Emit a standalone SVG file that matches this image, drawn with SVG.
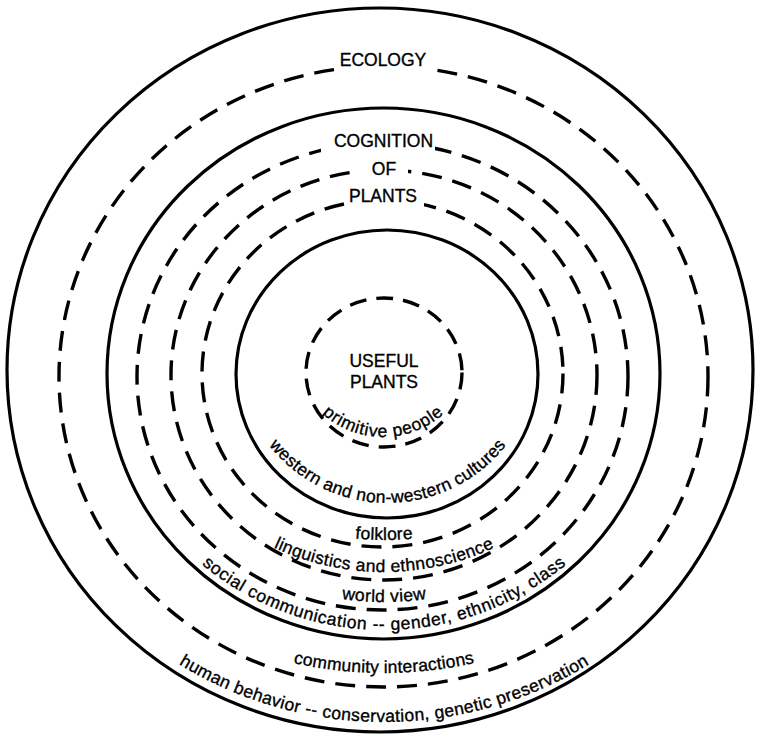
<svg xmlns="http://www.w3.org/2000/svg" xmlns:xlink="http://www.w3.org/1999/xlink" width="758" height="735" viewBox="0 0 758 735">
<style>
.solid{fill:none;stroke:#000;stroke-width:3.2}
.dash{fill:none;stroke:#000;stroke-width:3.4;stroke-dasharray:20 11}
.dashs{fill:none;stroke:#000;stroke-width:3.4;stroke-dasharray:17 10}
.lbl{font-family:"Liberation Sans",Arial,Helvetica,sans-serif;font-size:17.5px;fill:#000;stroke:#000;stroke-width:0.35;text-anchor:middle}
.bg{fill:#fff;stroke:none}
</style>
<defs>
<path id="tp-primitive" d="M292 346 A91 91 0 0 0 474 346"/>
<path id="tp-western" d="M237 352.5 A150.5 150.5 0 0 0 538 352.5"/>
<path id="tp-folklore" d="M84 240 A300 300 0 0 0 684 240"/>
<path id="tp-linguistics" d="M122 310 A262 262 0 0 0 646 310"/>
<path id="tp-world" d="M84 302 A300 300 0 0 0 684 302"/>
<path id="tp-social" d="M98 344 A286 286 0 0 0 670 344"/>
<path id="tp-community" d="M-29 260 A413 413 0 0 0 797 260"/>
<path id="tp-human" d="M-8.5 329.5 A392.5 392.5 0 0 0 776.5 329.5"/>
</defs>
<rect width="758" height="735" fill="#fff"/>
<g id="connectors"/>
<g id="human-behavior">
<ellipse class="solid" cx="380" cy="370" rx="373" ry="362"/>
<text class="lbl"><textPath href="#tp-human" xlink:href="#tp-human" startOffset="50%" textLength="432" lengthAdjust="spacing">human behavior -- conservation, genetic preservation</textPath></text>
</g>
<g id="ecology">
<ellipse class="dash" cx="383.5" cy="376.5" rx="324.5" ry="310.5"/>
<rect class="bg" x="337" y="50" width="94" height="22"/>
<text class="lbl" x="383" y="66">ECOLOGY</text>
<text class="lbl"><textPath href="#tp-community" xlink:href="#tp-community" startOffset="50%" textLength="183" lengthAdjust="spacing">community interactions</textPath></text>
</g>
<g id="social-communication">
<ellipse class="solid" cx="383.5" cy="373.5" rx="276.5" ry="265.5"/>
<text class="lbl"><textPath href="#tp-social" xlink:href="#tp-social" startOffset="50%" textLength="395" lengthAdjust="spacing">social  communication -- gender, ethnicity, class</textPath></text>
</g>
<g id="cognition">
<ellipse class="dash" cx="382.5" cy="376.5" rx="245.5" ry="233.5"/>
<rect class="bg" x="321" y="130" width="114" height="22"/>
<text class="lbl" x="383.5" y="147">COGNITION</text>
<text class="lbl"><textPath href="#tp-world" xlink:href="#tp-world" startOffset="50%" textLength="85" lengthAdjust="spacing">world view</textPath></text>
</g>
<g id="of">
<ellipse class="dash" cx="384" cy="375" rx="213" ry="205"/>
<rect class="bg" x="358" y="158" width="50" height="22"/>
<text class="lbl" x="384" y="175">OF</text>
<text class="lbl"><textPath href="#tp-linguistics" xlink:href="#tp-linguistics" startOffset="50%" textLength="228" lengthAdjust="spacing">linguistics and ethnoscience</textPath></text>
</g>
<g id="plants">
<ellipse class="dash" cx="382.5" cy="373.5" rx="180.5" ry="173.5"/>
<rect class="bg" x="348" y="186" width="76" height="22"/>
<text class="lbl" x="383" y="202">PLANTS</text>
<text class="lbl"><textPath href="#tp-folklore" xlink:href="#tp-folklore" startOffset="50%" textLength="58" lengthAdjust="spacing">folklore</textPath></text>
</g>
<g id="western-cultures">
<ellipse class="solid" cx="387" cy="374" rx="151" ry="144"/>
<text class="lbl"><textPath href="#tp-western" xlink:href="#tp-western" startOffset="50%" textLength="273" lengthAdjust="spacing">western and non-western cultures</textPath></text>
</g>
<g id="useful-plants">
<ellipse class="dashs" cx="384" cy="372.5" rx="78" ry="74.5"/>
<text class="lbl" x="384" y="367">USEFUL</text>
<text class="lbl" x="384" y="388">PLANTS</text>
<text class="lbl"><textPath href="#tp-primitive" xlink:href="#tp-primitive" startOffset="50%" textLength="133" lengthAdjust="spacing">primitive people</textPath></text>
</g>
</svg>
